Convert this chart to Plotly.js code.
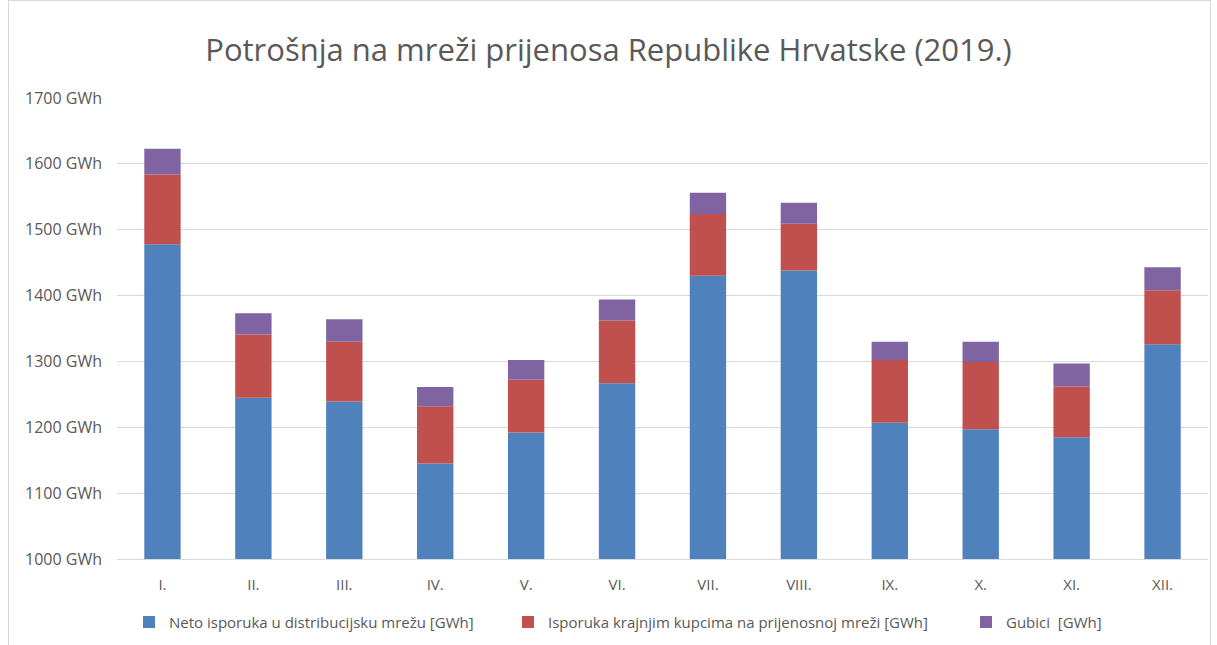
<!DOCTYPE html>
<html>
<head>
<meta charset="utf-8">
<script src="https://cdn.plot.ly/plotly-3.0.1.min.js"></script>
<style>
  html, body { margin: 0; padding: 0; background: #fff; }
  #wrap { position: relative; width: 1217px; height: 645px; overflow: hidden; }
  #chart { position: absolute; left: 0; top: 0; width: 1217px; height: 645px; }
  #frame { position: absolute; left: 8px; top: 0px; width: 1201px; height: 700px; border: 1px solid #d9d9d9; pointer-events: none; }
</style>
</head>
<body>
<div id="wrap">
  <div id="chart"></div>
  <div id="frame"></div>
</div>
<script>
const months = ["I.", "II.", "III.", "IV.", "V.", "VI.", "VII.", "VIII.", "IX.", "X.", "XI.", "XII."];
const netoDistribucija = [1478, 1245, 1239, 1145, 1192, 1267, 1430, 1438, 1207, 1197, 1185, 1326];
const krajnjiKupci = [106, 96, 91, 87, 80, 95, 94, 71, 95, 102, 77, 82];
const gubici = [39, 32, 34, 29, 30, 32, 32, 32, 28, 31, 35, 35];

const seriesNames = [
  "Neto isporuka u distribucijsku mrežu [GWh]",
  "Isporuka krajnjim kupcima na prijenosnoj mreži [GWh]",
  "Gubici  [GWh]"
];
const colors = ["#4F81BD", "#C0504D", "#8064A2"];
const FONT = "Open Sans, sans-serif";

const base = months.map(() => 1000);
const blueTop = netoDistribucija.map(v => v);
const redTop = netoDistribucija.map((v, i) => v + krajnjiKupci[i]);
const legendIds = ["legend", "legend2", "legend3"];

const traces = [netoDistribucija, krajnjiKupci, gubici].map((vals, k) => ({
  type: "bar",
  name: seriesNames[k],
  legend: legendIds[k],
  x: months,
  y: k === 0 ? vals.map(v => v - 1000) : vals,
  base: k === 0 ? base : (k === 1 ? blueTop : redTop),
  marker: { color: colors[k], line: { width: 0 } },
  hoverinfo: "skip"
}));

const ML = 117, MR = 9;
const plotW = 1217 - ML - MR;
function legendAt(px) {
  return {
    orientation: "h",
    x: (px - ML) / plotW, xanchor: "left",
    y: -0.137, yanchor: "middle",
    font: { family: FONT, size: 15, color: "#595959" },
    bgcolor: "rgba(0,0,0,0)",
    itemwidth: 30
  };
}

const layout = {
  width: 1217, height: 645,
  margin: { l: ML, r: MR, t: 98, b: 86, autoexpand: false },
  paper_bgcolor: "rgba(0,0,0,0)",
  plot_bgcolor: "#fff",
  barmode: "overlay",
  bargap: 0.6,
  title: {
    text: "Potrošnja na mreži prijenosa Republike Hrvatske (2019.)",
    font: { family: FONT, size: 31, color: "#595959" },
    x: 0.5, xanchor: "center", y: 0.922, yanchor: "middle"
  },
  xaxis: {
    tickfont: { family: FONT, size: 15, color: "#595959" },
    showgrid: false, zeroline: false,
    showline: true, linecolor: "#d9d9d9", linewidth: 1,
    ticks: "", ticklabelstandoff: 12, fixedrange: true, automargin: false
  },
  yaxis: {
    range: [1000, 1700],
    dtick: 100, tick0: 1000,
    ticksuffix: " GWh",
    tickfont: { family: FONT, size: 16, color: "#595959" },
    gridcolor: "#d9d9d9", gridwidth: 1,
    zeroline: false, showline: false, ticks: "",
    ticklabelstandoff: 14, fixedrange: true, automargin: false
  },
  showlegend: true,
  legend: legendAt(129),
  legend2: legendAt(508),
  legend3: legendAt(966)
};

Plotly.newPlot("chart", traces, layout, { displayModeBar: false, staticPlot: true });
</script>
</body>
</html>
